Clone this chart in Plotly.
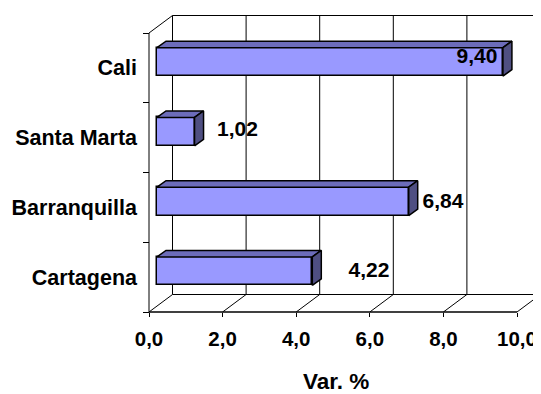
import plotly.graph_objects as go

# ---------------- data ----------------
categories = ["Cartagena", "Barranquilla", "Santa Marta", "Cali"]
values = [4.22, 6.84, 1.02, 9.40]
data_labels = ["4,22", "6,84", "1,02", "9,40"]
value_ticks = [0, 2, 4, 6, 8, 10]
value_tick_labels = ["0,0", "2,0", "4,0", "6,0", "8,0", "10,0"]
axis_title = "Var. %"

# ---------------- layout / style constants ----------------
PAGE_OFFSET = 8              # default body margin of the html page
W, H = 541 - PAGE_OFFSET, 394 - PAGE_OFFSET
ORIGIN = (149 - PAGE_OFFSET, 312 - PAGE_OFFSET)   # front-left-bottom corner of 3D box (px)
KX = 36.8                    # px per value unit
KY = 69.75                   # px per category band
FONT = "Liberation Sans, Arial, sans-serif"
FRONT = "#9999FF"
TOP = "#6C6CBA"
SIDE = "#4F4F82"

# label nudges in px relative to bar end (x) / bar centre (y, up positive)
label_nudge_x = [47.7, 25.3, 34.0, -35.0]
label_nudge_y = [-1.0, -1.6, 0.6, 4.4]
TITLE_DROP_PX = 69.5         # title centre below the floor front edge
TITLE_SHIFT_PX = 2.5


def vx(px):
    return px / KX


def cy(px):
    return px / KY


x_range = [-ORIGIN[0] / KX, (W - ORIGIN[0]) / KX]
y_range = [(ORIGIN[1] - H) / KY, ORIGIN[1] / KY]

WX, WY = vx(23.5), cy(17.5)      # wall depth
BX0, BY0 = vx(8), cy(6)          # bar front-face offset into the depth
BDX, BDY = vx(9), cy(6.5)        # bar depth
BW = cy(28.5)                    # bar thickness

n = len(categories)
vmax = value_ticks[-1]

fig = go.Figure()

# ---------------- walls / floor grid (shapes below traces) ----------------
shapes = []


def seg(x0, y0, x1, y1, w=1.0, color="black"):
    shapes.append(dict(type="line", xref="x", yref="y", x0=x0, y0=y0, x1=x1, y1=y1,
                       line=dict(color=color, width=w), layer="below"))


for t in value_ticks:
    seg(t, 0, t + WX, WY)                  # floor diagonal
    seg(t + WX, WY, t + WX, n + WY)        # back-wall gridline
seg(WX, WY, vmax + WX, WY)                 # floor back edge
seg(WX, n + WY, vmax + WX, n + WY)         # back-wall top edge
seg(0, n, WX, n + WY)                      # left-wall top diagonal
seg(0, 0, 0, n)                            # left front edge
seg(0, 0, vmax, 0, w=1.5)                  # floor front edge

# ---------------- bars ----------------
yc = [i + 0.5 + BY0 for i in range(n)]

fig.add_trace(go.Bar(
    x=values, y=yc, base=BX0, orientation="h", width=BW,
    marker=dict(color=FRONT, line=dict(color="black", width=1.5)),
    hoverinfo="skip", showlegend=False,
))

top_x, top_y, side_x, side_y = [], [], [], []
for v, c in zip(values, yc):
    x0, x1 = BX0, BX0 + v
    yt, yb = c + BW / 2, c - BW / 2
    top_x += [x0, x1, x1 + BDX, x0 + BDX, x0, None]
    top_y += [yt, yt, yt + BDY, yt + BDY, yt, None]
    side_x += [x1, x1 + BDX, x1 + BDX, x1, x1, None]
    side_y += [yb, yb + BDY, yt + BDY, yt, yb, None]

fig.add_trace(go.Scatter(x=top_x, y=top_y, mode="lines", fill="toself", fillcolor=TOP,
                         line=dict(color="black", width=1.5), hoverinfo="skip", showlegend=False))
fig.add_trace(go.Scatter(x=side_x, y=side_y, mode="lines", fill="toself", fillcolor=SIDE,
                         line=dict(color="black", width=1.5), hoverinfo="skip", showlegend=False))

# ---------------- data labels ----------------
lx = [BX0 + v + BDX + vx(dx) for v, dx in zip(values, label_nudge_x)]
ly = [c + cy(dy) for c, dy in zip(yc, label_nudge_y)]
fig.add_trace(go.Scatter(
    x=lx, y=ly, mode="text", text=data_labels, textposition="middle center",
    textfont=dict(family=FONT, size=21, color="black", weight="bold"),
    hoverinfo="skip", showlegend=False, cliponaxis=False,
))

fig.update_layout(
    width=W, height=H,
    margin=dict(l=0, r=0, t=0, b=0),
    paper_bgcolor="white", plot_bgcolor="white",
    shapes=shapes,
    font=dict(family=FONT, color="black"),
    bargap=0,
    annotations=[dict(
        text=axis_title, xref="x", yref="y", x=vmax / 2 + vx(TITLE_SHIFT_PX),
        y=-cy(TITLE_DROP_PX), xanchor="center", yanchor="middle", showarrow=False,
        font=dict(family=FONT, size=22.5, color="black", weight="bold"),
    )],
    xaxis=dict(
        range=x_range, domain=[0, 1], anchor="free", position=1 - ORIGIN[1] / H,
        tickmode="array", tickvals=value_ticks, ticktext=value_tick_labels,
        ticks="outside", ticklen=4, tickcolor="black", tickwidth=1,
        tickfont=dict(family=FONT, size=20.5, color="black", weight="bold"),
        ticklabelstandoff=4,
        showline=False, showgrid=False, zeroline=False, fixedrange=True,
    ),
    yaxis=dict(
        range=y_range, domain=[0, 1], anchor="free", position=ORIGIN[0] / W,
        tickmode="array", tickvals=[i + 0.5 for i in range(n)], ticktext=categories,
        ticks="", ticklabelstandoff=12,
        tickfont=dict(family=FONT, size=21.5, color="black", weight="bold"),
        minor=dict(tickvals=list(range(n + 1)), ticks="outside", ticklen=6,
                   tickcolor="black", tickwidth=1, showgrid=False),
        showline=False, showgrid=False, zeroline=False, fixedrange=True,
    ),
)

fig.write_html("out.html")
